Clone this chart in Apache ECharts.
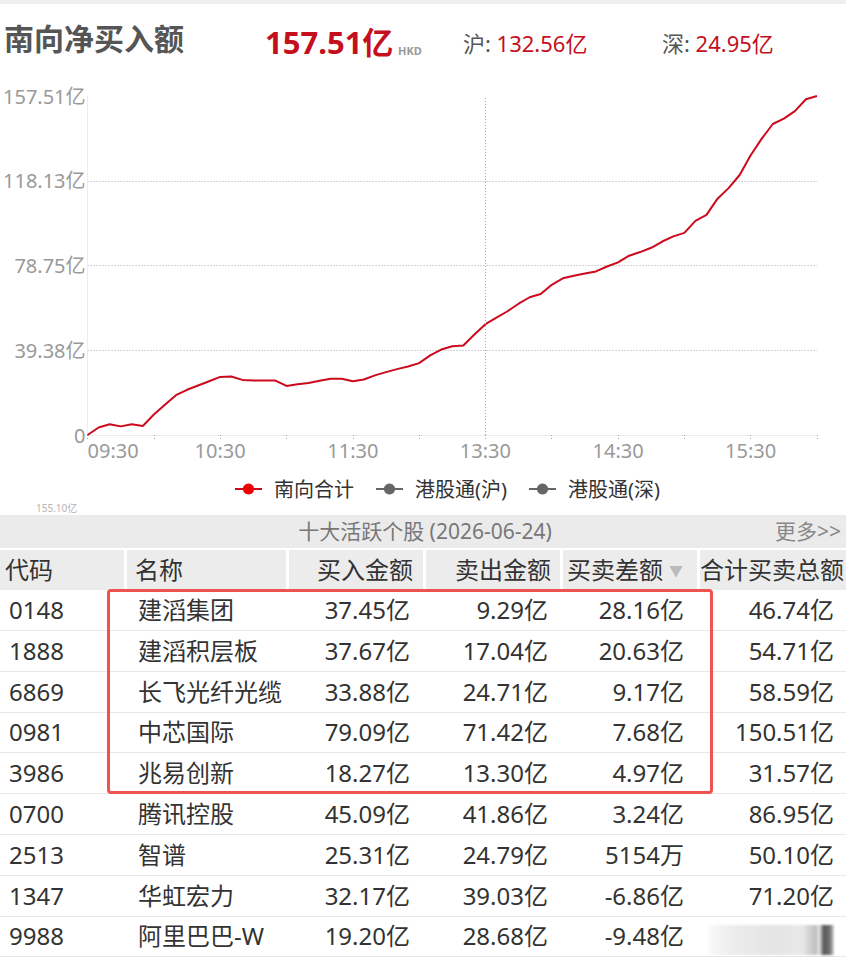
<!DOCTYPE html>
<html>
<head>
<meta charset="utf-8">
<title>南向净买入额</title>
<script src="https://cdn.jsdelivr.net/npm/echarts@6/dist/echarts.min.js"></script>
<style>
    html, body { margin: 0; padding: 0; background: #fff; }
    body { width: 846px; height: 960px; position: relative; overflow: hidden;
           font-family: "Noto Sans", "Noto Sans CJK SC", sans-serif; color: #333; }
    #chart { position: absolute; left: 0; top: 0; width: 846px; height: 515px; overflow: hidden; }
    #table { position: absolute; left: 0; top: 515px; width: 846px; height: 445px; overflow: hidden; }
    .bar { position: absolute; left: 0; top: 0; width: 846px; height: 33px; background: #ebebeb;
           font-size: 21px; color: #777; line-height: 33px; }
    .bar .t { position: absolute; left: 0; width: 850px; text-align: center; }
    .bar .more { position: absolute; left: 775px; color: #888; white-space: nowrap; }
    .hd { position: absolute; top: 35px; height: 40px; background: #ececec; font-size: 24px;
          line-height: 40px; white-space: nowrap; overflow: hidden; }
    .row { position: absolute; left: 0; width: 846px; height: 41px; border-bottom: 1px solid #e8e8e8;
           box-sizing: border-box; font-size: 24px; line-height: 40px; }
    .c { position: absolute; top: 0; white-space: nowrap; }
    .r { text-align: right; }
    .tri { color: #bbb; font-size: 14px; position: relative; top: -3px; margin-left: 6px; }
    #mark { position: absolute; left: 107px; top: 74px; width: 606px; height: 205px;
            border: 3px solid #ef5350; border-radius: 4px; box-sizing: border-box; }
    #blur { position: absolute; left: 708px; top: 410px; width: 126px; height: 30px;
            background: linear-gradient(to right, #fafafa 0%, #ececec 20%, #e4e4e4 50%, #e8e8e8 75%, #bdbdbd 86%, #f0f0f0 88%, #555 92%, #777 97%, #ddd 100%);
            filter: blur(1px); }
</style>
</head>
<body>
<div id="chart"></div>
<div id="table"></div>
<script>
// 头部汇总
const totalNet = '157.51亿';
const shNet = '132.56亿';
const szNet = '24.95亿';

// 分时(5分钟)
const times = [
    '09:30', '09:35', '09:40', '09:45', '09:50', '09:55', '10:00', '10:05', '10:10', '10:15', '10:20', '10:25',
    '10:30', '10:35', '10:40', '10:45', '10:50', '10:55', '11:00', '11:05', '11:10', '11:15', '11:20', '11:25',
    '11:30', '11:35', '11:40', '11:45', '11:50', '11:55', '12:00',
    '13:05', '13:10', '13:15', '13:20', '13:25',
    '13:30', '13:35', '13:40', '13:45', '13:50', '13:55', '14:00', '14:05', '14:10', '14:15', '14:20', '14:25',
    '14:30', '14:35', '14:40', '14:45', '14:50', '14:55', '15:00', '15:05', '15:10', '15:15', '15:20', '15:25',
    '15:30', '15:35', '15:40', '15:45', '15:50', '15:55', '16:00'
];
// 南向合计 累计净买入(亿)
const southTotal = [
    0, 3.5, 5, 4, 5, 4.2, 9.5, 14, 18.5, 21, 23, 25,
    27, 27.2, 25.6, 25.3, 25.3, 25.3, 22.8, 23.6, 24.2, 25.2, 26.1, 26.1,
    25, 25.8, 27.7, 29.2, 30.6, 31.8, 33.4,
    37, 39.7, 41.2, 41.6, 46.7,
    51.5, 54.5, 57.5, 61, 64, 65.5, 69.8, 72.8, 74, 75, 76, 78.3,
    80.2, 83.3, 85, 87, 89.9, 92.3, 93.9, 99.5, 102.3, 109.8, 114.7, 120.8,
    130, 137.7, 144.5, 147, 150.5, 156, 157.51
];
const yMax = 157.51;
const yTickLabels = ['0', '39.38亿', '78.75亿', '118.13亿', '157.51亿'];
const xLabelTimes = ['09:30', '10:30', '11:30', '13:30', '14:30', '15:30'];

// 十大活跃个股
const tableDate = '2026-06-24';
const codes = ['0148', '1888', '6869', '0981', '3986', '0700', '2513', '1347', '9988'];
const names = ['建滔集团', '建滔积层板', '长飞光纤光缆', '中芯国际', '兆易创新', '腾讯控股', '智谱', '华虹宏力', '阿里巴巴-W'];
const buyAmt = ['37.45亿', '37.67亿', '33.88亿', '79.09亿', '18.27亿', '45.09亿', '25.31亿', '32.17亿', '19.20亿'];
const sellAmt = ['9.29亿', '17.04亿', '24.71亿', '71.42亿', '13.30亿', '41.86亿', '24.79亿', '39.03亿', '28.68亿'];
const diffAmt = ['28.16亿', '20.63亿', '9.17亿', '7.68亿', '4.97亿', '3.24亿', '5154万', '-6.86亿', '-9.48亿'];
const totalAmt = ['46.74亿', '54.71亿', '58.59亿', '150.51亿', '31.57亿', '86.95亿', '50.10亿', '71.20亿', ''];

const FONT = '"Noto Sans", "Noto Sans CJK SC", sans-serif';

function renderChart() {
    let chart = echarts.init(document.getElementById('chart'), null, { renderer: 'svg' });
    const step = yMax / 4;
    let option = {
        animation: false,
        textStyle: { fontFamily: FONT },
        graphic: [
            { type: 'rect', shape: { x: 0, y: 0, width: 846, height: 4 }, style: { fill: '#efefef' } },
            { type: 'text', x: 4, y: 38, style: { text: '南向净买入额', fill: '#555', font: 'bold 30px ' + FONT, verticalAlign: 'middle' } },
            { type: 'text', x: 265, y: 42, style: { text: totalNet, fill: '#c40f1d', font: 'bold 31px ' + FONT, verticalAlign: 'middle' } },
            { type: 'text', x: 398, y: 50, style: { text: 'HKD', fill: '#999', font: 'bold 11px ' + FONT, verticalAlign: 'middle' } },
            {
                type: 'text', x: 463, y: 43,
                style: {
                    text: '{a|沪: }{b|' + shNet + '}', verticalAlign: 'middle',
                    rich: { a: { fill: '#555', font: '22px ' + FONT }, b: { fill: '#c40f1d', font: '22px ' + FONT } }
                }
            },
            {
                type: 'text', x: 662, y: 43,
                style: {
                    text: '{a|深: }{b|' + szNet + '}', verticalAlign: 'middle',
                    rich: { a: { fill: '#555', font: '22px ' + FONT }, b: { fill: '#c40f1d', font: '22px ' + FONT } }
                }
            },
            // 表格上方残留的提示文字
            { type: 'text', x: 36, y: 503, style: { text: '155.10亿', fill: '#b5b5b5', font: '10px ' + FONT } }
        ],
        grid: { left: 87, right: 29, top: 96, bottom: 80, containLabel: false },
        legend: {
            left: 229, top: 474,
            itemWidth: 27, itemHeight: 14, itemGap: 21,
            textStyle: { fontSize: 20, color: '#333', padding: [0, 0, 0, 7] },
            data: ['南向合计', '港股通(沪)', '港股通(深)']
        },
        xAxis: {
            type: 'category',
            boundaryGap: false,
            data: times,
            axisLine: { lineStyle: { color: '#ececec' } },
            axisTick: {
                interval: (i) => i % 6 === 0,
                length: 6,
                lineStyle: { color: '#aaa', type: [1, 2] }
            },
            axisLabel: {
                interval: (i, v) => xLabelTimes.indexOf(v) >= 0,
                color: '#999', fontSize: 20, margin: 5,
                alignMinLabel: 'left'
            },
            splitLine: { show: false }
        },
        yAxis: {
            type: 'value',
            min: 0, max: yMax, interval: step,
            axisLine: { show: true, lineStyle: { color: '#ececec' } },
            axisTick: { show: false },
            axisLabel: {
                color: '#999', fontSize: 20, margin: 2,
                formatter: (v) => yTickLabels[Math.round(v / step)]
            },
            splitLine: {
                lineStyle: { color: ['transparent', '#aaa', '#aaa', '#aaa', 'transparent'], type: [1, 2] }
            }
        },
        series: [
            {
                name: '南向合计',
                type: 'line',
                data: southTotal,
                symbol: 'circle',
                symbolSize: 14,
                showSymbol: false,
                itemStyle: { color: '#ee0000' },
                lineStyle: { color: '#cc0a1e', width: 2 },
                markLine: {
                    silent: true,
                    symbol: 'none',
                    label: { show: false },
                    lineStyle: { color: '#aaa', type: [1, 2], width: 1 },
                    data: [{ xAxis: '13:30' }]
                }
            },
            { name: '港股通(沪)', type: 'line', data: [], symbol: 'circle', itemStyle: { color: '#666' }, lineStyle: { color: '#666' } },
            { name: '港股通(深)', type: 'line', data: [], symbol: 'circle', itemStyle: { color: '#666' }, lineStyle: { color: '#666' } }
        ]
    };
    chart.setOption(option);
    return chart;
}

function renderTable() {
    let box = document.getElementById('table');
    let html = '<div class="bar"><span class="t">十大活跃个股 (' + tableDate + ')</span><span class="more">更多&gt;&gt;</span></div>';
    // 表头: [left, width, text, align]
    const head = [
        [0, 124, '<span style="padding-left:5px">代码</span>', 'l'],
        [127, 159, '<span style="padding-left:8px">名称</span>', 'l'],
        [289, 134, '<span style="padding-right:10px">买入金额</span>', 'r'],
        [426, 134, '<span style="padding-right:9px">卖出金额</span>', 'r'],
        [563, 134, '<span style="padding-left:4px">买卖差额</span><span class="tri">▼</span>', 'l'],
        [700, 146, '合计买卖总额', 'l']
    ];
    head.forEach(h => {
        html += '<div class="hd' + (h[3] === 'r' ? ' r' : '') + '" style="left:' + h[0] + 'px;width:' + h[1] + 'px">' + h[2] + '</div>';
    });
    codes.forEach((code, i) => {
        let top = 75 + i * 40.8;
        html += '<div class="row" style="top:' + top + 'px">' +
            '<span class="c" style="left:9px">' + code + '</span>' +
            '<span class="c" style="left:138px">' + names[i] + '</span>' +
            '<span class="c r" style="right:' + (846 - 410) + 'px">' + buyAmt[i] + '</span>' +
            '<span class="c r" style="right:' + (846 - 548) + 'px">' + sellAmt[i] + '</span>' +
            '<span class="c r" style="right:' + (846 - 684) + 'px">' + diffAmt[i] + '</span>' +
            '<span class="c r" style="right:' + (846 - 834) + 'px">' + totalAmt[i] + '</span>' +
            '</div>';
    });
    html += '<div id="mark"></div><div id="blur"></div>';
    box.innerHTML = html;
}

renderChart();
renderTable();
</script>
</body>
</html>
